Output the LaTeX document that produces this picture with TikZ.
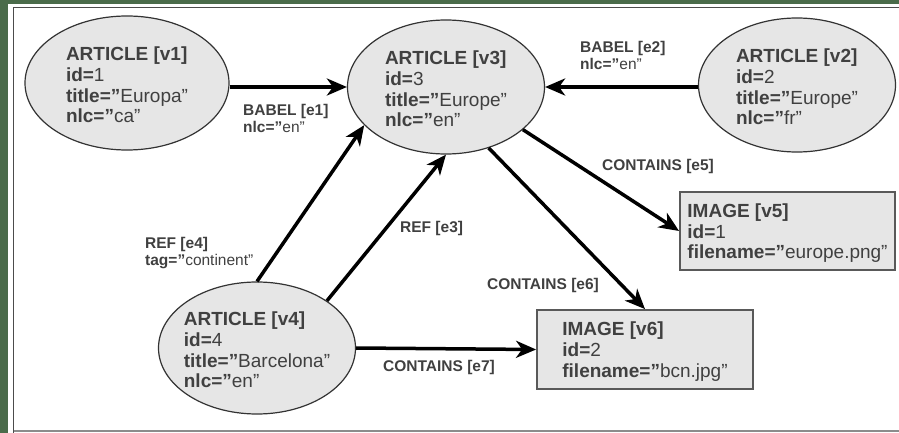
\documentclass[tikz,border=0pt]{standalone}
\usepackage{fontspec}
\setmainfont{Liberation Sans}
\usetikzlibrary{shapes.geometric,arrows.meta}

\definecolor{framegreen}{HTML}{4A6B4A}
\definecolor{nodefill}{HTML}{E6E6E6}
\definecolor{txt}{HTML}{404040}

% first line of a vertex, with a little head room
\newcommand\vhead[1]{\textbf{#1}\rule{0pt}{18pt}}

\begin{document}
\begin{tikzpicture}[x=1pt, y=-1pt,
    article/.style={ellipse, draw=black!80, line width=1.2pt, fill=nodefill,
        inner xsep=-6pt, inner ysep=0pt, align=left, text=txt,
        font=\fontsize{19}{20.7}\selectfont},
    imagebox/.style={rectangle, draw=black!65, line width=1.8pt, fill=nodefill,
        inner xsep=0pt, inner ysep=-2pt, align=left, text=txt,
        font=\fontsize{19}{20.7}\selectfont},
    link/.style={line width=3.5pt, -{Stealth[length=20pt,width=17pt,inset=6pt]}},
    elabel/.style={anchor=north west, inner sep=0pt, align=left, text=txt,
        font=\fontsize{15.5}{17}\selectfont}]
    \useasboundingbox (0,0) rectangle (899,433);

    % frame
    \fill[framegreen] (0,0) rectangle (899,433);
    \fill[white] (8,4) rectangle (899,433);
    \draw[black!70, line width=1.5pt] (13.5,433) -- (13.5,7.5) -- (899,7.5);
    \draw[black!45, line width=2pt] (13.5,431) -- (899,431);

    % vertices
    \node[article, minimum width=204, minimum height=134] (v1) at (127,83)
        {\vhead{ARTICLE [v1]}\\\textbf{id=}1\\\textbf{title="}Europa"\\\textbf{nlc="}ca"};
    \node[article, minimum width=197, minimum height=134] (v3) at (446,87)
        {\vhead{ARTICLE [v3]}\\\textbf{id=}3\\\textbf{title="}Europe"\\\textbf{nlc="}en"};
    \node[article, minimum width=197, minimum height=134] (v2) at (797,85)
        {\vhead{ARTICLE [v2]}\\\textbf{id=}2\\\textbf{title="}Europe"\\\textbf{nlc="}fr"};
    \node[article, minimum width=197, minimum height=132] (v4) at (257,348)
        {\vhead{ARTICLE [v4]}\\\textbf{id=}4\\\textbf{title="}Barcelona"\\\textbf{nlc="}en"};
    \node[imagebox, minimum width=215, minimum height=78] (v5) at (787.5,231)
        {\vhead{IMAGE [v5]}\\\textbf{id=}1\\\textbf{filename="}europe.png"};
    \node[imagebox, minimum width=216, minimum height=79] (v6) at (645,349.5)
        {\vhead{IMAGE [v6]}\\\textbf{id=}2\\\textbf{filename="}bcn.jpg"};

    % edges
    \draw[link] (v1.east |- v3) -- (v3.west);
    \draw[link] (v2.west |- v3) -- (v3.east);
    \draw[link] (v4.north) -- (v3.205);
    \draw[link] (v4.34) -- (v3.south);
    \draw[link] (v3.-29) -- (v5.west);
    \draw[link] (v3.-55) -- (v6.north);
    \draw[link] (v4.east) -- (v6.west);

    % edge labels
    \node[elabel] (e1) at (243,104.5) {\textbf{BABEL [e1]}\\\textbf{nlc="}en"};
    \node[elabel] (e2) at (580,41.5) {\textbf{BABEL [e2]}\\\textbf{nlc="}en"};
    \node[elabel] (e3) at (400,221.5) {\textbf{REF [e3]}};
    \node[elabel] (e4) at (145,237.5) {\textbf{REF [e4]}\\\textbf{tag="}continent"};
    \node[elabel] (e5) at (602,159.5) {\textbf{CONTAINS [e5]}};
    \node[elabel] (e6) at (487,278) {\textbf{CONTAINS [e6]}};
    \node[elabel] (e7) at (383,360) {\textbf{CONTAINS [e7]}};
\end{tikzpicture}
\end{document}
